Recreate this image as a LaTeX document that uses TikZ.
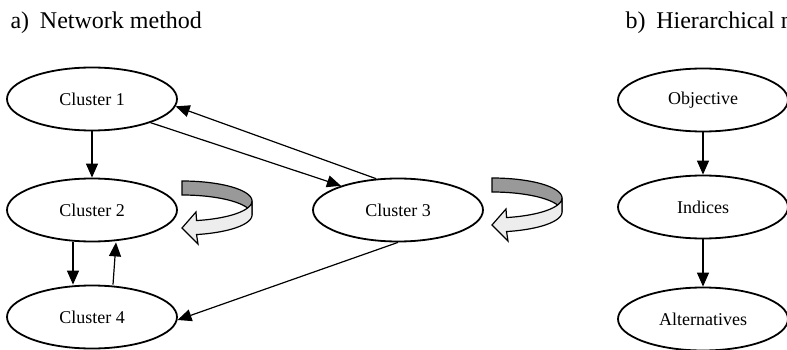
\documentclass[tikz,border=0pt]{standalone}
\usepackage{fontspec}
\setmainfont{Liberation Serif}
\usetikzlibrary{arrows.meta,shapes.geometric}
\definecolor{bandback}{gray}{0.60}
\definecolor{bandfront}{gray}{0.93}
\tikzset{
  cluster/.style={draw, ellipse, line width=1.8pt, minimum width=170pt, minimum height=63pt,
    inner sep=0pt, font=\fontsize{18}{20}\selectfont},
  link/.style={-{Triangle[length=14pt,width=12pt]}, line width=1.2pt},
  backband/.style={draw, line width=1.2pt, fill=bandback},
  frontband/.style={draw, line width=1.2pt, fill=bandfront},
  heading/.style={anchor=base west, font=\fontsize{24}{26}\selectfont}
}
\begin{document}
\begin{tikzpicture}[x=1pt,y=-1pt]
\useasboundingbox (0,0) rectangle (787,350);
\clip (0,0) rectangle (787,350);
% Headings
\node[heading] (ta) at (7,29) {a)\hspace{0.45em}Network method};
\node[heading] (tb) at (622,29) {b)\hspace{0.45em}Hierarchical method};
% Network clusters
\node[cluster] (c1) at (92,99) {Cluster 1};
\node[cluster] (c2) at (92,210) {Cluster 2};
\node[cluster] (c3) at (398,210) {Cluster 3};
\node[cluster] (c4) at (92,317) {Cluster 4};
% Network links
\draw[link] (c1) -- (c2);
\draw[link] ([xshift=-19pt]c2.south) -- ([xshift=-19pt]c4.north);
\draw[link] ([xshift=21pt]c4.north) -- ([xshift=24pt]c2.south);
\draw[link] (c1.338) -- (c3.157);
\draw[link] (c3.125) -- (c1.355);
\draw[link] (c3.south) -- (c4.358);
% Inner dependence loops
\foreach \cx/\cy in {182/201,492/198} {
  \path[backband] plot[domain=90:0,samples=30] ({\cx+70*cos(\x)},{\cy-20*sin(\x)})
    -- (\cx+70,\cy+14)
    -- plot[domain=0:90,samples=30] ({\cx+70*cos(\x)},{\cy+14-20*sin(\x)}) -- cycle;
  \path[frontband] plot[domain=0:-78,samples=30] ({\cx+70*cos(\x)},{\cy-20*sin(\x)})
    -- (\cx+14,\cy+11) -- (\cx,\cy+27) -- (\cx+16,\cy+43)
    -- plot[domain=-78:0,samples=30] ({\cx+70*cos(\x)},{\cy+14-20*sin(\x)}) -- cycle;
}
% Hierarchy levels
\foreach \n/\t/\y in {obj/Objective/100,ind/Indices/207,alt/Alternatives/319}
  \node[cluster] (\n) at (703,\y) {\t};
\draw[link] (obj) -- (ind);
\draw[link] (ind) -- (alt);
\end{tikzpicture}
\end{document}
